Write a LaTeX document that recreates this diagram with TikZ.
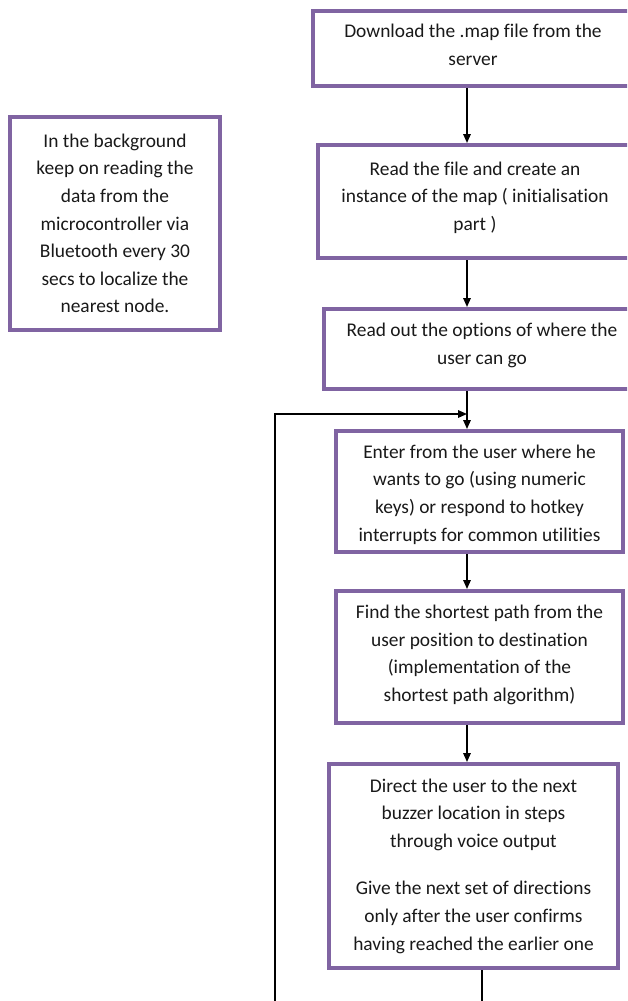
\documentclass[tikz,border=0pt]{standalone}
\usepackage{fontspec}
\setmainfont[Ligatures=CommonOff]{Carlito}
\usetikzlibrary{arrows.meta}
\definecolor{boxpurple}{RGB}{128,100,162}
\begin{document}
\begin{tikzpicture}[x=1pt,y=-1pt,
  stepbox/.style={draw=boxpurple, line width=4pt, fill=white, inner sep=0pt},
  steptext/.style={inner sep=0pt, align=center, text=black!90,
    font=\fontsize{19.4}{27.6}\selectfont},
  link/.style={line width=1.6pt, -{Triangle[length=9pt,width=7.5pt]}},
  wire/.style={line width=1.6pt}]
\useasboundingbox (0,0) rectangle (627,1001);
\clip (0,0) rectangle (627,1001);
\fill[white] (0,0) rectangle (627,1001);

% background task
\node[stepbox, minimum width=210pt, minimum height=213pt] (bg) at (115,223.5) {};
\node[steptext] (bgt) at (bg.center)
  {In the background\\keep on reading the\\data from the\\microcontroller via\\Bluetooth every 30\\secs to localize the\\nearest node.};

% main flow boxes
\node[stepbox, minimum width=320pt, minimum height=75pt] (b1) at (473,48.5) {};
\node[stepbox, minimum width=314pt, minimum height=113pt] (b2) at (475,201.5) {};
\node[stepbox, minimum width=316pt, minimum height=80pt] (b3) at (482,349) {};
\node[stepbox, minimum width=287pt, minimum height=121pt] (b4) at (479.5,491.5) {};
\node[stepbox, minimum width=287pt, minimum height=132pt] (b5) at (479.5,657) {};
\node[stepbox, minimum width=289pt, minimum height=204pt] (b6) at (473.5,866) {};

% box texts
\node[steptext] (b1t) at ([yshift=3.5pt]b1.center)
  {Download the .map file from the\\server};
\node[steptext] (b2t) at ([yshift=4pt]b2.center)
  {Read the file and create an\\instance of the map ( initialisation\\part )};
\node[steptext] (b3t) at ([yshift=3.5pt]b3.center)
  {Read out the options of where the\\user can go};
\node[steptext] (b4t) at ([yshift=-3pt]b4.center)
  {Enter from the user where he\\wants to go (using numeric\\keys) or respond to hotkey\\interrupts for common utilities};
\node[steptext] (b5t) at ([yshift=2pt]b5.center)
  {Find the shortest path from the\\user position to destination\\(implementation of the\\shortest path algorithm)};
\node[steptext] (b6t) at (b6.center)
  {Direct the user to the next\\buzzer location in steps\\through voice output\\[20pt]Give the next set of directions\\only after the user confirms\\having reached the earlier one};

% connectors
\coordinate (spine) at (467,0);
\coordinate (join) at (467,414);
\coordinate (loopstart) at (275,1001);
\coordinate (outx) at (482,0);
\coordinate (out) at (482,1001);

\draw[link] (spine |- b1.south) -- (spine |- b2.north);
\draw[link] (spine |- b2.south) -- (spine |- b3.north);
\draw[link] (spine |- b3.south) -- (spine |- b4.north);
\draw[link] (spine |- b4.south) -- (spine |- b5.north);
\draw[link] (spine |- b5.south) -- (spine |- b6.north);
\draw[link] (loopstart) |- (join);
\draw[wire] (outx |- b6.south) -- (out);
\end{tikzpicture}
\end{document}
